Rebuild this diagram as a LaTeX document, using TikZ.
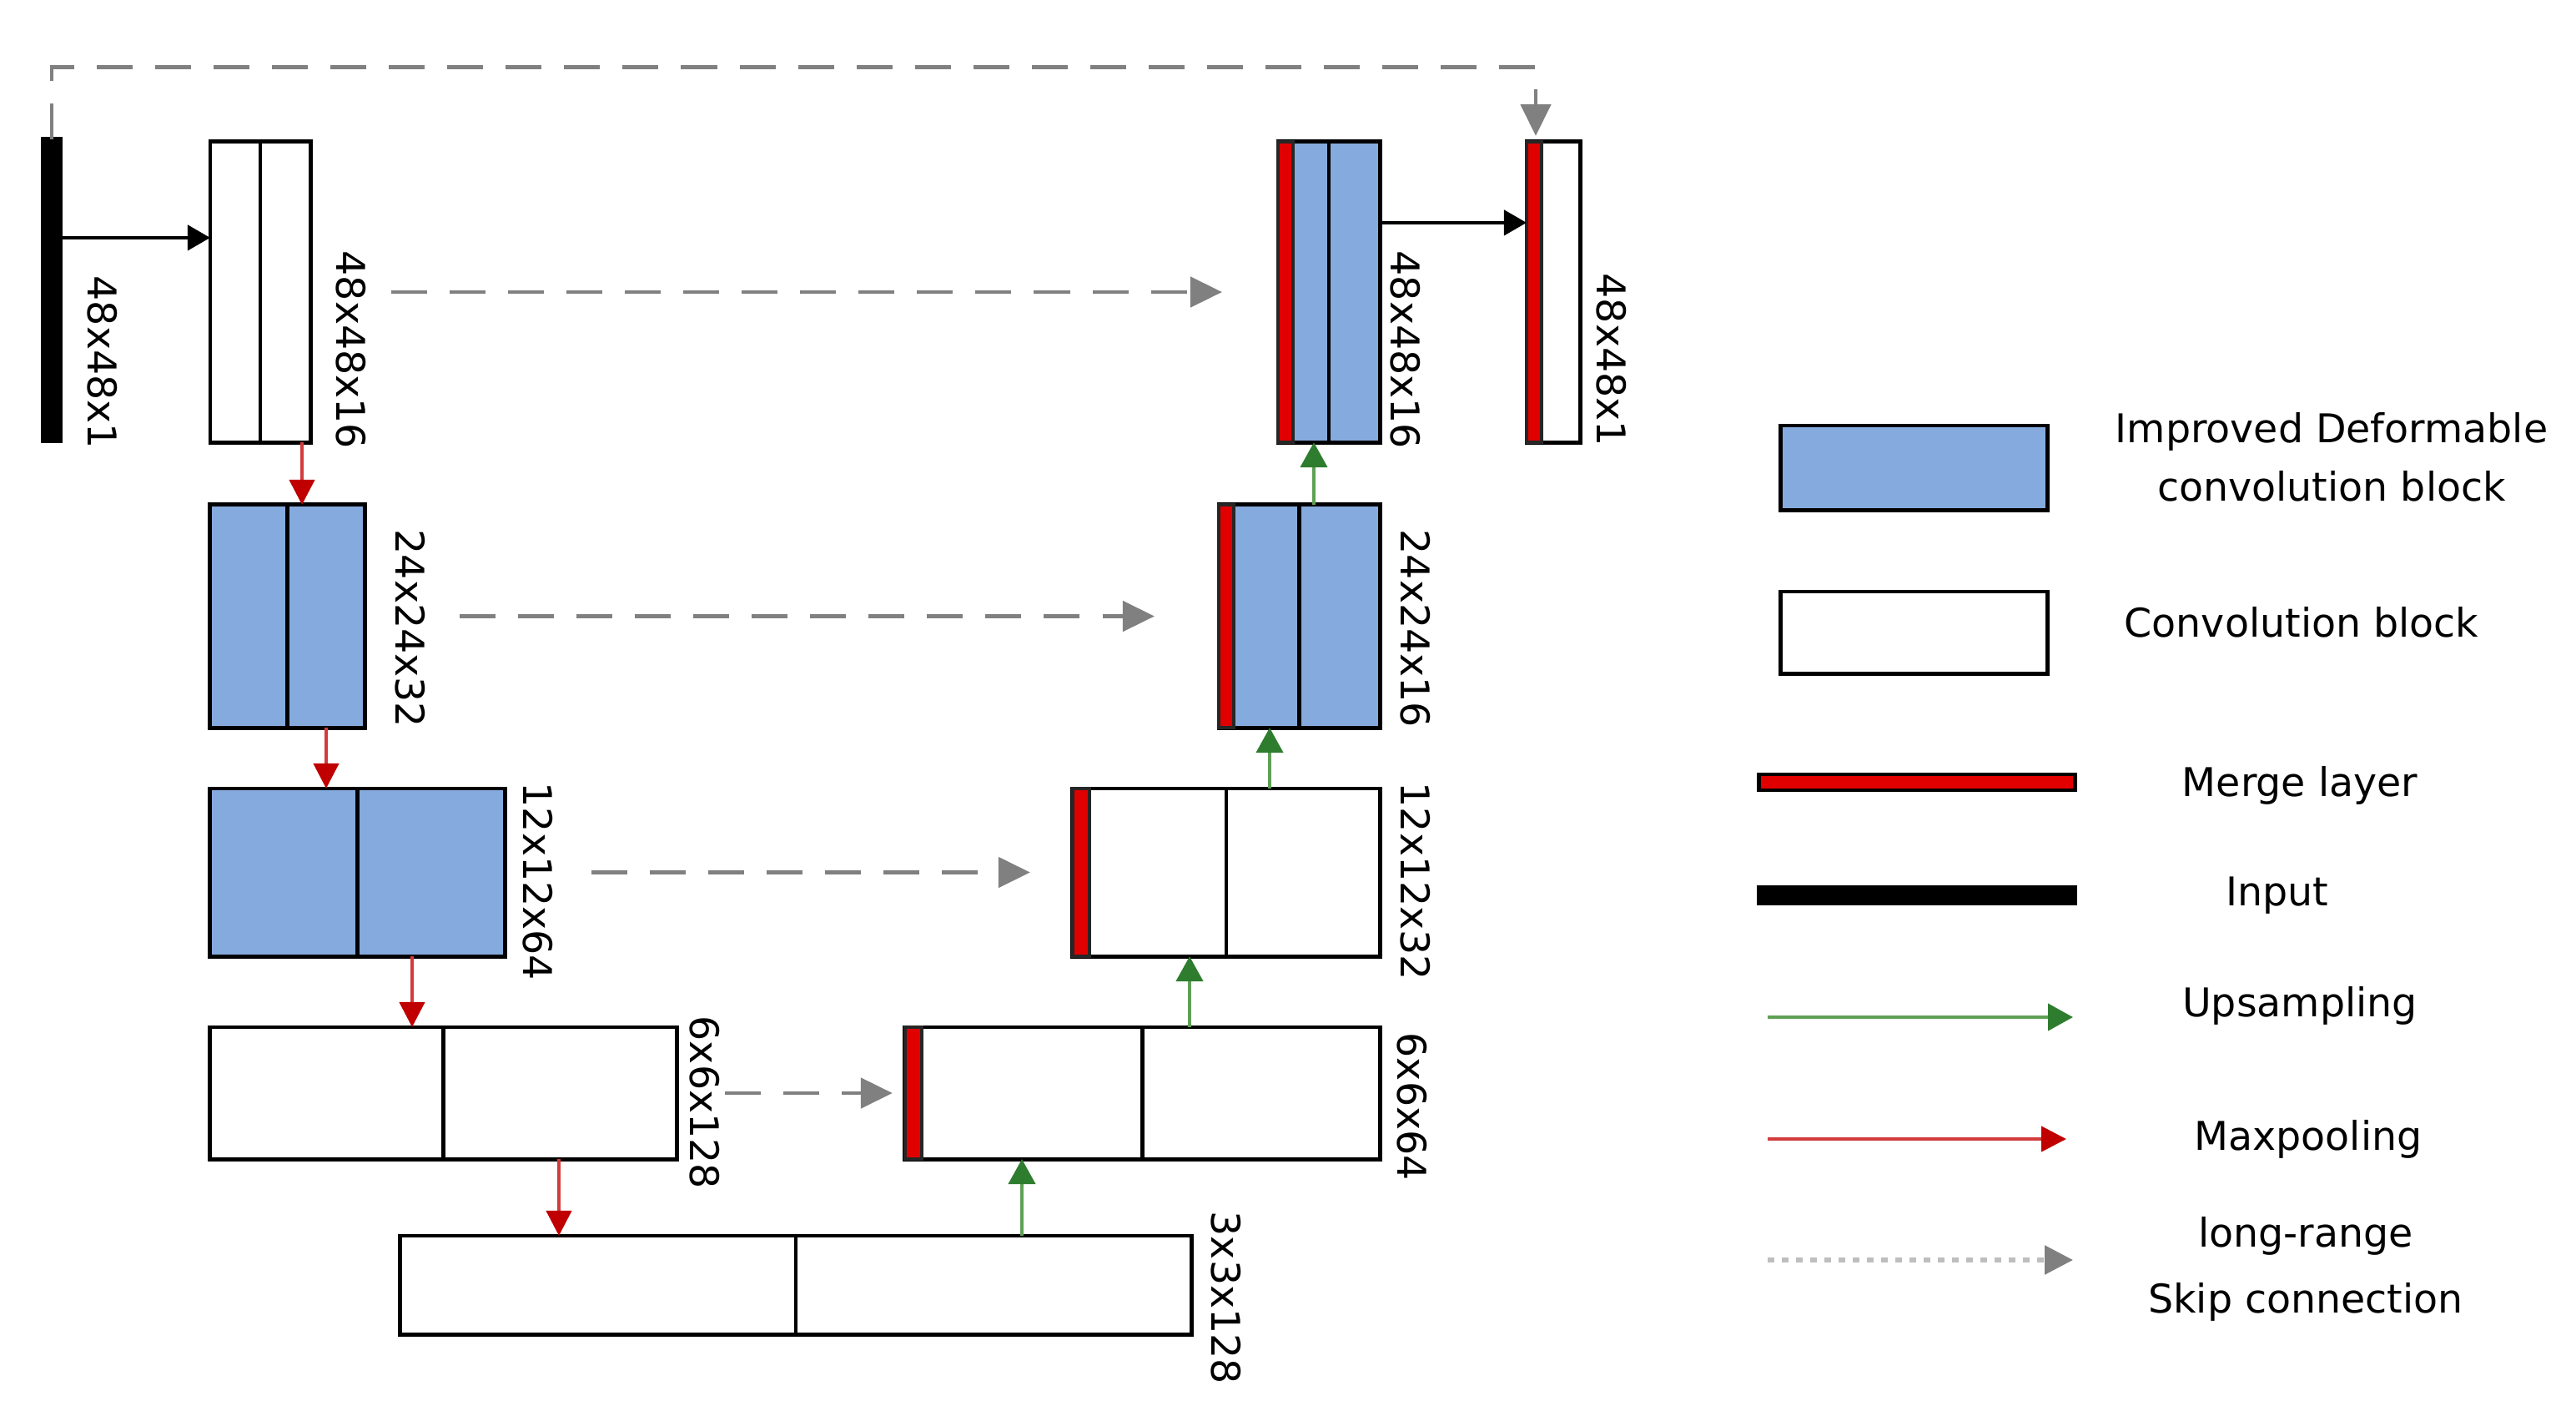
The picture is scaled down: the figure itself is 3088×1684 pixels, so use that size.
\documentclass[tikz,border=0pt]{standalone}
\usepackage{fontspec}
\setmainfont{DejaVu Sans}
\usetikzlibrary{arrows.meta, calc}

\definecolor{dcblue}{RGB}{133,170,221}
\definecolor{mergered}{RGB}{224,0,0}
\definecolor{uphead}{RGB}{46,125,46}
\definecolor{upline}{RGB}{95,160,85}
\definecolor{poolhead}{RGB}{192,0,0}
\definecolor{poolline}{RGB}{210,60,60}
\definecolor{skipgray}{RGB}{128,128,128}
\definecolor{dotgray}{RGB}{190,190,190}

\tikzset{
    blk/.style = {draw = black, line width = 1.4pt, inner sep = 0, outer sep = 0},
    conv/.style = {blk, fill = white},
    dconv/.style = {blk, fill = dcblue},
    inbar/.style = {blk, fill = black},
    mergebar/.style = {draw = black!85, line width = 1pt, fill = mergered},
    dimlabel/.style = {rotate = -90, anchor = south west, inner sep = 0, font = \fontsize{13.5}{16}\selectfont},
    lgd/.style = {align = center, font = \fontsize{13.5}{20}\selectfont},
    feed/.style = {line width = 1.2pt, -{Triangle[length = 0.27cm, width = 0.3cm]}},
    upsamp/.style = {line width = 1.2pt, upline, -{Triangle[length = 0.3cm, width = 0.32cm, color = uphead]}},
    poolarrow/.style = {line width = 1.2pt, poolline, -{Triangle[length = 0.3cm, width = 0.3cm, color = poolhead]}},
    skiparrow/.style = {line width = 1.4pt, skipgray, dash pattern = on 0.43cm off 0.27cm, -{Triangle[length = 0.38cm, width = 0.36cm]}},
    lgdskip/.style = {line width = 1.6pt, dotgray, dash pattern = on 0.08cm off 0.09cm, -{Triangle[length = 0.34cm, width = 0.34cm, color = skipgray]}}
}

\begin{document}
\begin{tikzpicture}[x = 0.01cm, y = -0.01cm]
    \useasboundingbox (0, 0) rectangle (3088, 1684);

    \node (inp) at (62, 347.5) [inbar, minimum width = 0.22cm, minimum height = 3.61cm] {};
    \node (e1) at (312, 350) [conv, minimum width = 1.2cm, minimum height = 3.6cm] {};
    \node (e2) at (344.5, 738.5) [dconv, minimum width = 1.85cm, minimum height = 2.67cm] {};
    \node (e3) at (428.5, 1045.5) [dconv, minimum width = 3.53cm, minimum height = 2.01cm] {};
    \node (e4) at (531.5, 1310) [conv, minimum width = 5.59cm, minimum height = 1.58cm] {};
    \node (bn) at (954, 1540) [conv, minimum width = 9.48cm, minimum height = 1.18cm] {};
    \node (d4) at (1369.5, 1310) [conv, minimum width = 5.69cm, minimum height = 1.58cm] {};
    \node (d3) at (1470, 1045.5) [conv, minimum width = 3.68cm, minimum height = 2.01cm] {};
    \node (d2) at (1557.5, 738.5) [dconv, minimum width = 1.93cm, minimum height = 2.67cm] {};
    \node (d1) at (1593, 350) [dconv, minimum width = 1.22cm, minimum height = 3.6cm] {};
    \node (out) at (1862, 350) [conv, minimum width = 0.64cm, minimum height = 3.6cm] {};

    \foreach \b in {e1, e2, e3, e4, bn, d4, d3, d2, d1}
        \draw [line width = 1.4pt] (\b.north) -- (\b.south);

    \draw [mergebar] (d4.north west) rectangle ($(d4.south west) + (20, 0)$);
    \draw [mergebar] (d3.north west) rectangle ($(d3.south west) + (20, 0)$);
    \draw [mergebar] (d2.north west) rectangle ($(d2.south west) + (18, 0)$);
    \draw [mergebar] (d1.north west) rectangle ($(d1.south west) + (18, 0)$);
    \draw [mergebar] (out.north west) rectangle ($(out.south west) + (18, 0)$);

    \node (inpl) at (104, 330) [dimlabel] {48x48x1};
    \node (e1l) at (402, 300) [dimlabel] {48x48x16};
    \node (e2l) at (473, 634) [dimlabel] {24x24x32};
    \node (e3l) at (626, 937) [dimlabel] {12x12x64};
    \node (e4l) at (826, 1217) [dimlabel] {6x6x128};
    \node (bnl) at (1451, 1451) [dimlabel] {3x3x128};
    \node (d4l) at (1674, 1237) [dimlabel] {6x6x64};
    \node (d3l) at (1678, 937) [dimlabel] {12x12x32};
    \node (d2l) at (1678, 634) [dimlabel] {24x24x16};
    \node (d1l) at (1666, 300) [dimlabel] {48x48x16};
    \node (outl) at (1913, 327) [dimlabel] {48x48x1};

    \draw [feed] ($(inp.north east) + (0, 118)$) -- ($(e1.north west) + (0, 115)$);
    \draw [feed] ($(d1.north east) + (0, 97)$) -- ($(out.north west) + (0, 97)$);

    \draw [poolarrow] ($(e1.south) + (50, 0)$) -- ($(e2.north) + (17.5, 0)$);
    \draw [poolarrow] ($(e2.south) + (46.5, 0)$) -- ($(e3.north) + (-37.5, 0)$);
    \draw [poolarrow] ($(e3.south) + (65.5, 0)$) -- ($(e4.north) + (-37.5, 0)$);
    \draw [poolarrow] ($(e4.south) + (138.5, 0)$) -- ($(bn.north) + (-284, 0)$);

    \draw [upsamp] ($(bn.north) + (271, 0)$) -- ($(d4.south) + (-144.5, 0)$);
    \draw [upsamp] ($(d4.north) + (56.5, 0)$) -- ($(d3.south) + (-44, 0)$);
    \draw [upsamp] ($(d3.north) + (52, 0)$) -- ($(d2.south) + (-35.5, 0)$);
    \draw [upsamp] ($(d2.north) + (17.5, 0)$) -- ($(d1.south) + (-18, 0)$);

    \draw [skiparrow] ($(e1.east) + (97, 0)$) -- ($(d1.west) + (-67, 0)$);
    \draw [skiparrow] ($(e2.east) + (114, 0)$) -- ($(d2.west) + (-77, 0)$);
    \draw [skiparrow] ($(e3.east) + (104, 0)$) -- ($(d3.west) + (-51, 0)$);
    \draw [skiparrow] ($(e4.east) + (58, 0)$) -- ($(d4.west) + (-15, 0)$);
    \draw [skiparrow] (inp.north) -- ++(0, -86) -| ($(out.north west) + (11, -7)$);

    \node (lgdc) at (2294.5, 560.5) [dconv, minimum width = 3.19cm, minimum height = 1.01cm] {};
    \node (lgcv) at (2294.5, 758) [conv, minimum width = 3.19cm, minimum height = 0.98cm] {};
    \node (lgmg) at (2298, 937.5) [blk, fill = mergered, minimum width = 3.78cm, minimum height = 0.19cm] {};
    \node (lgin) at (2298, 1073) [inbar, minimum width = 3.78cm, minimum height = 0.2cm] {};
    \coordinate (lgu1) at (2119, 1219);
    \coordinate (lgu2) at (2485, 1219);
    \coordinate (lgp1) at (2119, 1365);
    \coordinate (lgp2) at (2477, 1365);
    \coordinate (lgs1) at (2119, 1510);
    \coordinate (lgs2) at (2485, 1510);
    \draw [upsamp] (lgu1) -- (lgu2);
    \draw [poolarrow] (lgp1) -- (lgp2);
    \draw [lgdskip] (lgs1) -- (lgs2);

    \node (tdc) at (2795, 547.5) [lgd] {Improved Deformable\\convolution block};
    \node (tcv) at (2759, 746) [lgd] {Convolution block};
    \node (tmg) at (2757, 941) [lgd] {Merge layer};
    \node (tin) at (2730, 1073) [lgd] {Input};
    \node (tup) at (2757, 1205) [lgd] {Upsampling};
    \node (tpl) at (2767, 1365) [lgd] {Maxpooling};
    \node (tsk) at (2764, 1520.5) [lgd, font = \fontsize{13.5}{22.5}\selectfont] {long-range\\Skip connection};
\end{tikzpicture}
\end{document}
